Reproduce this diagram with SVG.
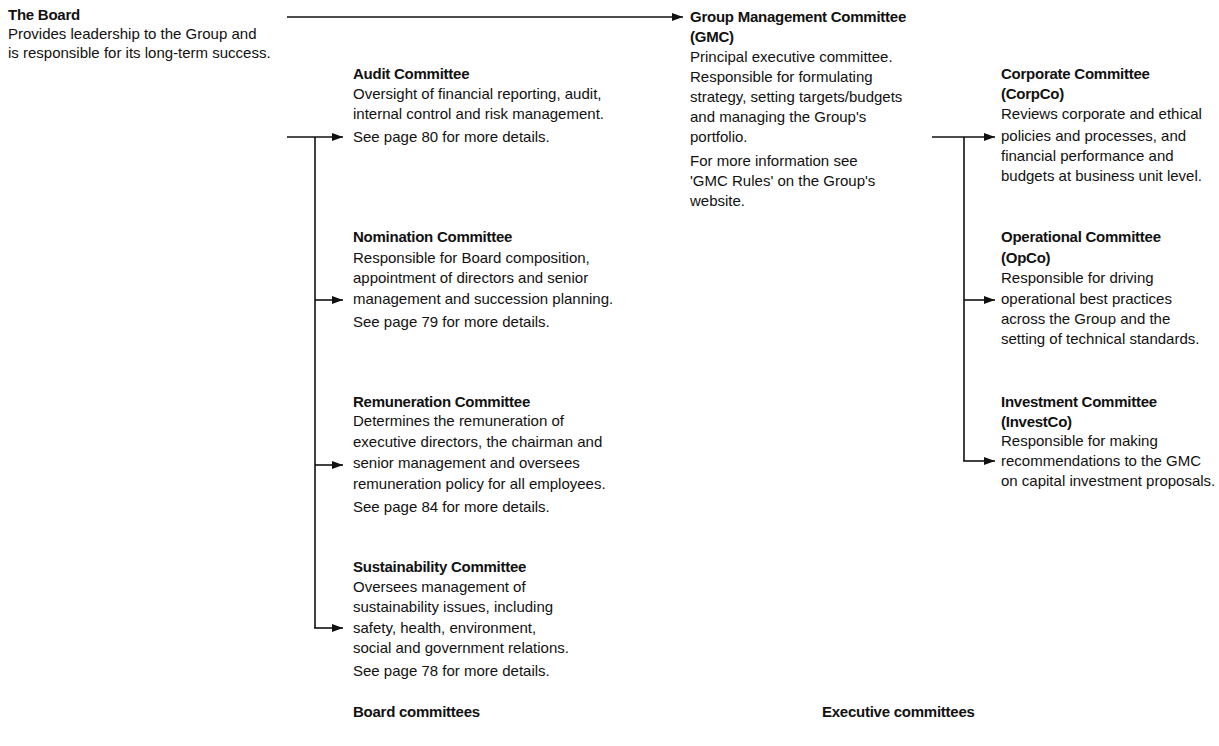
<svg xmlns="http://www.w3.org/2000/svg" width="1219" height="746" viewBox="0 0 1219 746">
<defs>
<style>
text{font-family:"Liberation Sans",Arial,sans-serif;font-size:15px;fill:#111;}
.b{font-weight:bold;letter-spacing:-0.25px;}
.c{stroke:#111;stroke-width:1.6;fill:none;}
</style>
<marker id="ah" markerUnits="userSpaceOnUse" markerWidth="12" markerHeight="10" refX="11" refY="5" orient="auto">
<path d="M0,1 L11,5 L0,9 Z" fill="#111"/>
</marker>
</defs>
<rect width="1219" height="746" fill="#fff"/>
<g id="connectors">
<line class="c" x1="287" y1="17" x2="683" y2="17" marker-end="url(#ah)"/>
<line class="c" x1="287" y1="137" x2="343" y2="137" marker-end="url(#ah)"/>
<line class="c" x1="315" y1="137" x2="315" y2="628"/>
<line class="c" x1="315" y1="300" x2="343" y2="300" marker-end="url(#ah)"/>
<line class="c" x1="315" y1="465" x2="343" y2="465" marker-end="url(#ah)"/>
<line class="c" x1="314.2" y1="628" x2="343" y2="628" marker-end="url(#ah)"/>
<line class="c" x1="932" y1="137" x2="995" y2="137" marker-end="url(#ah)"/>
<line class="c" x1="964" y1="137" x2="964" y2="461"/>
<line class="c" x1="964" y1="300" x2="995" y2="300" marker-end="url(#ah)"/>
<line class="c" x1="963.2" y1="461" x2="995" y2="461" marker-end="url(#ah)"/>
</g>
<g id="board">
<text x="8" y="20" class="b">The Board</text>
<text x="8" y="39">Provides leadership to the Group and</text>
<text x="8" y="58">is responsible for its long-term success.</text>
</g>
<g id="gmc">
<text x="690" y="22" class="b">Group Management Committee</text>
<text x="690" y="42" class="b">(GMC)</text>
<text x="690" y="62">Principal executive committee.</text>
<text x="690" y="82">Responsible for formulating</text>
<text x="690" y="102">strategy, setting targets/budgets</text>
<text x="690" y="122">and managing the Group's</text>
<text x="690" y="142">portfolio.</text>
<text x="690" y="166">For more information see</text>
<text x="690" y="186">'GMC Rules' on the Group's</text>
<text x="690" y="206">website.</text>
</g>
<g id="audit">
<text x="353" y="79" class="b">Audit Committee</text>
<text x="353" y="99">Oversight of financial reporting, audit,</text>
<text x="353" y="119">internal control and risk management.</text>
<text x="353" y="142">See page 80 for more details.</text>
</g>
<g id="nomination">
<text x="353" y="242" class="b">Nomination Committee</text>
<text x="353" y="263">Responsible for Board composition,</text>
<text x="353" y="283">appointment of directors and senior</text>
<text x="353" y="304">management and succession planning.</text>
<text x="353" y="327">See page 79 for more details.</text>
</g>
<g id="remuneration">
<text x="353" y="407" class="b">Remuneration Committee</text>
<text x="353" y="426">Determines the remuneration of</text>
<text x="353" y="447">executive directors, the chairman and</text>
<text x="353" y="468">senior management and oversees</text>
<text x="353" y="489">remuneration policy for all employees.</text>
<text x="353" y="512">See page 84 for more details.</text>
</g>
<g id="sustainability">
<text x="353" y="572" class="b">Sustainability Committee</text>
<text x="353" y="592">Oversees management of</text>
<text x="353" y="612">sustainability issues, including</text>
<text x="353" y="633">safety, health, environment,</text>
<text x="353" y="653">social and government relations.</text>
<text x="353" y="676">See page 78 for more details.</text>
</g>
<g id="corpco">
<text x="1001" y="79" class="b">Corporate Committee</text>
<text x="1001" y="99" class="b">(CorpCo)</text>
<text x="1001" y="119">Reviews corporate and ethical</text>
<text x="1001" y="141">policies and processes, and</text>
<text x="1001" y="161">financial performance and</text>
<text x="1001" y="181">budgets at business unit level.</text>
</g>
<g id="opco">
<text x="1001" y="242" class="b">Operational Committee</text>
<text x="1001" y="263" class="b">(OpCo)</text>
<text x="1001" y="283">Responsible for driving</text>
<text x="1001" y="304">operational best practices</text>
<text x="1001" y="324">across the Group and the</text>
<text x="1001" y="344">setting of technical standards.</text>
</g>
<g id="investco">
<text x="1001" y="407" class="b">Investment Committee</text>
<text x="1001" y="427" class="b">(InvestCo)</text>
<text x="1001" y="446">Responsible for making</text>
<text x="1001" y="466">recommendations to the GMC</text>
<text x="1001" y="486">on capital investment proposals.</text>
</g>
<g id="footer">
<text x="353" y="717" class="b">Board committees</text>
<text x="822" y="717" class="b">Executive committees</text>
</g>
</svg>
